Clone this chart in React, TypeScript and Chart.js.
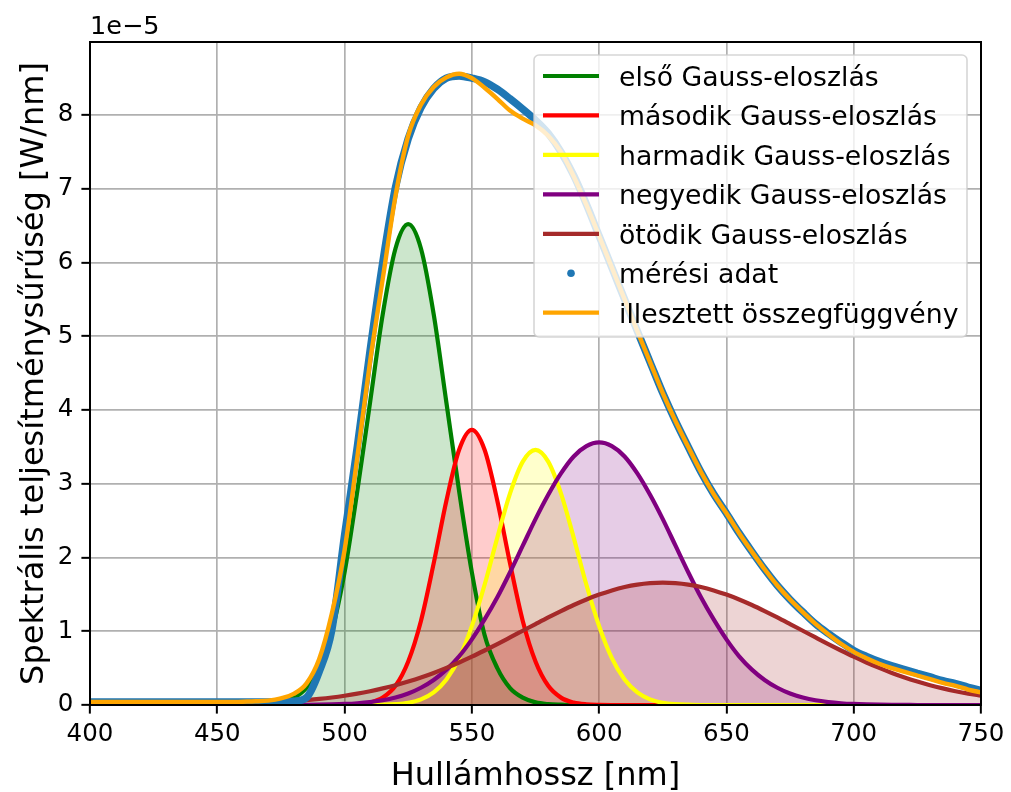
import React, { useEffect, useRef } from "react";
import { Chart, registerables } from "chart.js";

Chart.register(...registerables);

// Values in units of 1e-5 W/nm
const wavelengths = [
  400, 405, 410, 415, 420, 425, 430, 435, 440, 445, 450, 455, 460, 465, 470, 475, 480, 485, 490, 495,
  500, 505, 510, 515, 520, 525, 530, 535, 540, 545, 550, 555, 560, 565, 570, 575, 580, 585, 590, 595,
  600, 605, 610, 615, 620, 625, 630, 635, 640, 645, 650, 655, 660, 665, 670, 675, 680, 685, 690, 695,
  700, 705, 710, 715, 720, 725, 730, 735, 740, 745, 750,
];

const gauss1 = [
  0, 0, 0, 0, 0, 0, 0, 0, 0, 0, 0, 0, 0, 0.004, 0.012, 0.036, 0.096, 0.233, 0.51, 1.0,
  1.8, 2.9, 4.1, 5.3, 6.19, 6.52, 6.19, 5.3, 4.1, 2.9, 1.8, 0.95, 0.5, 0.23, 0.1, 0.036, 0.012, 0.004, 0, 0,
  0, 0, 0, 0, 0, 0, 0, 0, 0, 0, 0, 0, 0, 0, 0, 0, 0, 0, 0, 0,
  0, 0, 0, 0, 0, 0, 0, 0, 0, 0, 0,
];

const gauss2 = [
  0, 0, 0, 0, 0, 0, 0, 0, 0, 0, 0, 0, 0, 0, 0, 0, 0, 0, 0, 0,
  0.002, 0.009, 0.033, 0.1, 0.26, 0.59, 1.14, 1.92, 2.77, 3.46, 3.73, 3.46, 2.77, 1.92, 1.14, 0.59, 0.26, 0.1, 0.033, 0.009,
  0.002, 0, 0, 0, 0, 0, 0, 0, 0, 0, 0, 0, 0, 0, 0, 0, 0, 0, 0, 0,
  0, 0, 0, 0, 0, 0, 0, 0, 0, 0, 0,
];

const gauss3 = [
  0, 0, 0, 0, 0, 0, 0, 0, 0, 0, 0, 0, 0, 0, 0, 0, 0, 0, 0, 0,
  0, 0, 0, 0.004, 0.012, 0.031, 0.076, 0.17, 0.345, 0.635, 1.07, 1.63, 2.27, 2.87, 3.3, 3.46, 3.3, 2.87, 2.27, 1.63,
  1.07, 0.635, 0.345, 0.17, 0.076, 0.031, 0.012, 0.004, 0, 0, 0, 0, 0, 0, 0, 0, 0, 0, 0, 0,
  0, 0, 0, 0, 0, 0, 0, 0, 0, 0, 0,
];

const gauss4 = [
  0, 0, 0, 0, 0, 0, 0, 0, 0, 0, 0, 0, 0, 0, 0, 0, 0.001, 0.002, 0.004, 0.008,
  0.014, 0.024, 0.04, 0.064, 0.102, 0.156, 0.234, 0.34, 0.48, 0.66, 0.89, 1.16, 1.46, 1.8, 2.16, 2.52, 2.85, 3.14, 3.37, 3.51,
  3.56, 3.51, 3.37, 3.14, 2.85, 2.52, 2.16, 1.8, 1.46, 1.16, 0.89, 0.66, 0.48, 0.34, 0.234, 0.156, 0.102, 0.064, 0.04, 0.024,
  0.014, 0.008, 0.004, 0.002, 0.001, 0, 0, 0, 0, 0, 0,
];

const gauss5 = [
  0, 0.0006, 0.0008, 0.0011, 0.0016, 0.0022, 0.003, 0.004, 0.006, 0.008, 0.011, 0.014, 0.018, 0.024, 0.031, 0.04, 0.051, 0.065, 0.082, 0.102,
  0.126, 0.154, 0.187, 0.225, 0.268, 0.318, 0.373, 0.435, 0.503, 0.576, 0.655, 0.739, 0.826, 0.916, 1.007, 1.098, 1.188, 1.274, 1.356, 1.431,
  1.497, 1.554, 1.6, 1.633, 1.653, 1.66, 1.653, 1.633, 1.6, 1.554, 1.497, 1.431, 1.356, 1.274, 1.188, 1.098, 1.007, 0.916, 0.826, 0.739,
  0.655, 0.576, 0.503, 0.435, 0.373, 0.318, 0.268, 0.225, 0.187, 0.154, 0.126,
];

const measured = [
  0.04, 0.04, 0.04, 0.04, 0.04, 0.04, 0.04, 0.04, 0.04, 0.04, 0.04, 0.04, 0.04, 0.04, 0.04, 0.04, 0.05, 0.1, 0.45, 1.02,
  2.3, 3.5, 4.8, 6.0, 7.02, 7.68, 8.1, 8.36, 8.5, 8.53, 8.5, 8.45, 8.35, 8.22, 8.08, 7.93, 7.75, 7.5, 7.18, 6.79,
  6.36, 5.93, 5.5, 5.07, 4.65, 4.23, 3.85, 3.5, 3.16, 2.86, 2.6, 2.33, 2.08, 1.84, 1.62, 1.43, 1.26, 1.1, 0.97, 0.85,
  0.74, 0.66, 0.59, 0.53, 0.48, 0.43, 0.38, 0.33, 0.29, 0.24, 0.2,
];

const fitted = [
  0.04, 0.04, 0.04, 0.04, 0.04, 0.04, 0.04, 0.04, 0.04, 0.04, 0.04, 0.04, 0.045, 0.05, 0.06, 0.09, 0.15, 0.29, 0.62, 1.24,
  2.1, 3.36, 4.65, 5.78, 6.9, 7.72, 8.14, 8.38, 8.51, 8.56, 8.5, 8.37, 8.22, 8.06, 7.95, 7.86, 7.72, 7.5, 7.17, 6.78,
  6.36, 5.93, 5.5, 5.07, 4.65, 4.23, 3.85, 3.5, 3.16, 2.86, 2.6, 2.33, 2.08, 1.84, 1.62, 1.43, 1.26, 1.1, 0.96, 0.83,
  0.72, 0.635, 0.56, 0.5, 0.45, 0.4, 0.35, 0.3, 0.26, 0.21, 0.17,
];

const xTickValues = [400, 450, 500, 550, 600, 650, 700, 750];
const yTickValues = [0, 1, 2, 3, 4, 5, 6, 7, 8];
const OFFSET_TEXT = "1e\u22125";
const X_TITLE = "Hullámhossz [nm]";
const Y_TITLE = "Spektrális teljesítménysűrűség [W/nm]";

const seriesLabels = [
  "első Gauss-eloszlás",
  "második Gauss-eloszlás",
  "harmadik Gauss-eloszlás",
  "negyedik Gauss-eloszlás",
  "ötödik Gauss-eloszlás",
  "mérési adat",
  "illesztett összegfüggvény",
];

const FONT = '"DejaVu Sans", "Liberation Sans", sans-serif';

function pts(ys: number[]) {
  return wavelengths.map((x, i) => ({ x, y: ys[i] }));
}

const decorations = {
  id: "decorations",
  afterDatasetsDraw(chart: any) {
    const { ctx, chartArea: a } = chart;
    ctx.save();
    // spines
    ctx.strokeStyle = "#000";
    ctx.lineWidth = 2;
    ctx.strokeRect(a.left, a.top, a.right - a.left, a.bottom - a.top);

    // legend
    const bw = 433;
    const bh = 282;
    const bx = a.right - 14 - bw;
    const by = a.top + 13;
    ctx.beginPath();
    ctx.roundRect(bx, by, bw, bh, 5);
    ctx.fillStyle = "rgba(255,255,255,0.8)";
    ctx.fill();
    ctx.strokeStyle = "rgba(204,204,204,0.8)";
    ctx.lineWidth = 1.6;
    ctx.stroke();

    ctx.font = `26.7px ${FONT}`;
    ctx.textAlign = "left";
    ctx.textBaseline = "alphabetic";
    const items = chart.data.datasets.slice().sort((p: any, q: any) => p.legendIndex - q.legendIndex);
    items.forEach((ds: any, i: number) => {
      const cy = by + 21 + 39.45 * i;
      if (ds.legendMarker === "dot") {
        ctx.beginPath();
        ctx.arc(bx + 37, cy, 3.8, 0, Math.PI * 2);
        ctx.fillStyle = ds.borderColor;
        ctx.fill();
      } else {
        ctx.beginPath();
        ctx.moveTo(bx + 9, cy);
        ctx.lineTo(bx + 65, cy);
        ctx.strokeStyle = ds.borderColor;
        ctx.lineWidth = 4.2;
        ctx.stroke();
      }
      ctx.fillStyle = "#000";
      ctx.fillText(ds.label, bx + 85, cy + 10);
    });
    ctx.restore();
  },
  afterDraw(chart: any) {
    const { ctx, chartArea: a } = chart;
    ctx.save();
    ctx.fillStyle = "#000";
    ctx.font = `25.5px ${FONT}`;
    ctx.textAlign = "left";
    ctx.textBaseline = "alphabetic";
    ctx.fillText(OFFSET_TEXT, a.left, a.top - 8);

    ctx.font = `32px ${FONT}`;
    ctx.textAlign = "center";
    ctx.fillText(X_TITLE, (a.left + a.right) / 2, 785);

    ctx.translate(43, (a.top + a.bottom) / 2);
    ctx.rotate(-Math.PI / 2);
    ctx.fillText(Y_TITLE, 0, 0);
    ctx.restore();
  },
};

export default function App() {
  const ref = useRef<HTMLCanvasElement>(null);
  useEffect(() => {
    document.body.style.margin = "0";
    const gaussColors = ["#008000", "#ff0000", "#ffff00", "#800080", "#a52a2a"];
    const gaussFills = [
      "rgba(0,128,0,0.2)",
      "rgba(255,0,0,0.2)",
      "rgba(255,255,0,0.2)",
      "rgba(128,0,128,0.2)",
      "rgba(165,42,42,0.2)",
    ];
    const gaussData = [gauss1, gauss2, gauss3, gauss4, gauss5];
    const datasets: any[] = gaussData.map((g, i) => ({
      label: seriesLabels[i],
      data: pts(g),
      borderColor: gaussColors[i],
      backgroundColor: gaussFills[i],
      borderWidth: 4.2,
      fill: "origin",
      pointRadius: 0,
      cubicInterpolationMode: "monotone",
      order: 6 - i,
      legendIndex: i,
    }));
    datasets.push({
      label: seriesLabels[5],
      data: pts(measured),
      borderColor: "#1f77b4",
      backgroundColor: "#1f77b4",
      borderWidth: 7.5,
      fill: false,
      pointRadius: 0,
      cubicInterpolationMode: "monotone",
      order: 1,
      legendIndex: 5,
      legendMarker: "dot",
    });
    datasets.push({
      label: seriesLabels[6],
      data: pts(fitted),
      borderColor: "#ffa500",
      backgroundColor: "#ffa500",
      borderWidth: 4.4,
      fill: false,
      pointRadius: 0,
      cubicInterpolationMode: "monotone",
      order: 0,
      legendIndex: 6,
    });

    const gridCommon = {
      color: "#b0b0b0",
      lineWidth: 1.7,
      drawTicks: true,
      tickLength: 8.6,
      tickColor: "#000",
      tickWidth: 2,
    };

    const chart = new Chart(ref.current as HTMLCanvasElement, {
      type: "line",
      data: { datasets },
      options: {
        animation: false,
        responsive: false,
        devicePixelRatio: 1,
        layout: { padding: { left: 0, top: 42, right: 30, bottom: 0 } },
        plugins: {
          legend: { display: false },
          tooltip: { enabled: false },
          filler: { drawTime: "beforeDatasetsDraw" },
        } as any,
        scales: {
          x: {
            type: "linear",
            min: 400,
            max: 750,
            afterBuildTicks: (s: any) => {
              s.ticks = xTickValues.map((v) => ({ value: v }));
            },
            afterFit: (s: any) => {
              s.height = 87;
            },
            grid: gridCommon,
            border: { display: false },
            ticks: {
              color: "#000",
              font: { family: FONT, size: 24.5 },
              padding: 6,
              maxRotation: 0,
              autoSkip: false,
            },
          },
          y: {
            type: "linear",
            min: 0,
            max: 8.99,
            afterBuildTicks: (s: any) => {
              s.ticks = yTickValues.map((v) => ({ value: v }));
            },
            afterFit: (s: any) => {
              s.width = 90;
            },
            grid: gridCommon,
            border: { display: false },
            ticks: {
              color: "#000",
              font: { family: FONT, size: 24.5 },
              padding: 8,
              autoSkip: false,
              callback: (v: any) => String(v),
            },
          },
        },
      } as any,
      plugins: [decorations],
    });
    return () => chart.destroy();
  }, []);
  return (
    <div style={{ width: 1011, height: 792 }}>
      <canvas ref={ref} width={1011} height={792} style={{ display: "block", width: 1011, height: 792 }} />
    </div>
  );
}
